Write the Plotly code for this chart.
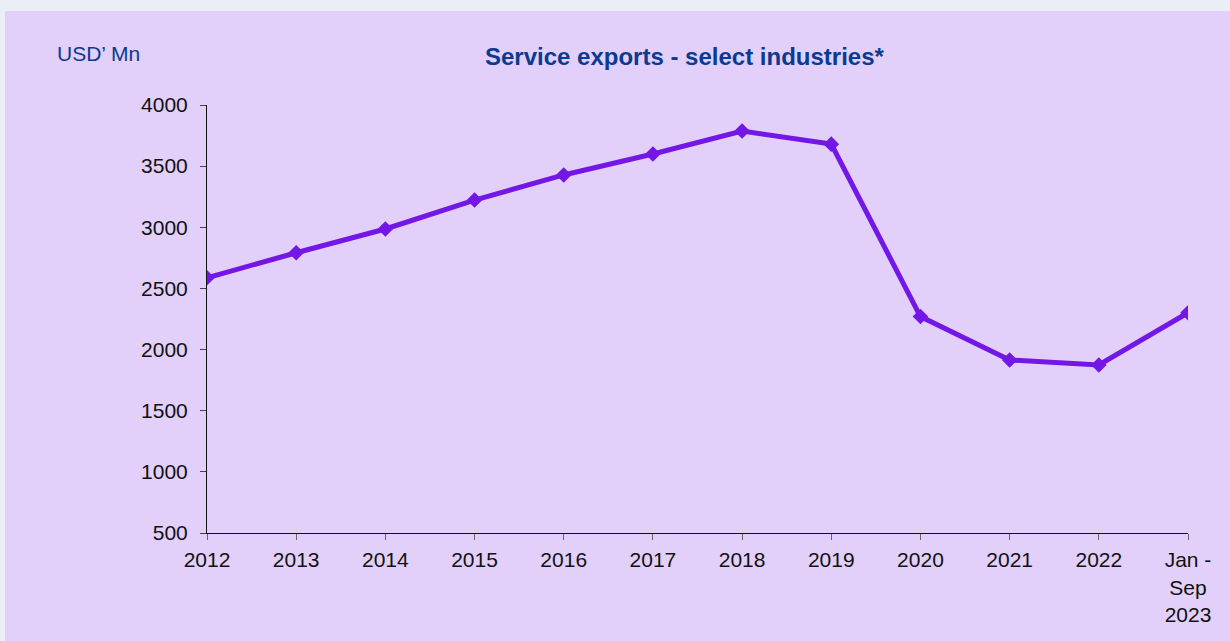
import plotly.graph_objects as go

categories = ["2012", "2013", "2014", "2015", "2016", "2017", "2018", "2019",
              "2020", "2021", "2022", "Jan -<br>Sep<br>2023"]
values = [2587, 2792, 2986, 3223, 3428, 3599, 3787, 3680, 2270, 1915, 1874, 2301]
y_ticks = [500, 1000, 1500, 2000, 2500, 3000, 3500, 4000]

W, H = 1230, 641
L, R, T, B = 207, 42, 105, 108
pw, ph = W - L - R, H - T - B

def px_x(x):
    return (x - L) / pw

def px_y(y):
    return (H - B - y) / ph

fig = go.Figure()
fig.add_trace(go.Scatter(
    x=list(range(len(categories))), y=values, mode="lines+markers",
    line=dict(color="#7317E6", width=5),
    marker=dict(symbol="diamond", size=12, color="#7317E6"),
    hoverinfo="y", showlegend=False,
))

fig.add_shape(type="rect", xref="paper", yref="paper", layer="below",
              x0=px_x(5), x1=px_x(1240), y0=px_y(650), y1=px_y(11),
              line=dict(width=0), fillcolor="#E2D0FA")

fig.add_annotation(text="<b>Service exports - select industries*</b>",
                   xref="paper", yref="paper", x=px_x(685), y=px_y(57),
                   xanchor="center", yanchor="middle", showarrow=False,
                   font=dict(family="Liberation Sans, Arial", size=24, color="#0A3A91"))
fig.add_annotation(text="USD’ Mn", xref="paper", yref="paper",
                   x=px_x(55), y=px_y(53), xanchor="left", yanchor="middle",
                   showarrow=False,
                   font=dict(family="Liberation Sans, Arial", size=21, color="#0A3A91"))

fig.update_layout(
    width=W, height=H,
    margin=dict(l=L, r=R, t=T, b=B),
    paper_bgcolor="#ECEEF6", plot_bgcolor="rgba(0,0,0,0)",
    font=dict(family="Liberation Sans, Arial", size=21, color="#111111"),
    xaxis=dict(
        range=[0, len(categories) - 1], tickmode="array",
        tickvals=list(range(len(categories))), ticktext=categories,
        showgrid=False, zeroline=False, showline=True, linecolor="#111111",
        linewidth=1, ticks="outside", ticklen=6, tickcolor="#666666",
        tickfont=dict(size=21), ticklabelstandoff=2,
    ),
    yaxis=dict(
        range=[500, 4000], tickmode="array", tickvals=y_ticks,
        showgrid=False, zeroline=False, showline=True, linecolor="#111111",
        linewidth=1, ticks="outside", ticklen=6, tickcolor="#444444",
        tickfont=dict(size=21), ticklabelstandoff=8,
    ),
)

fig.write_html("out.html")
